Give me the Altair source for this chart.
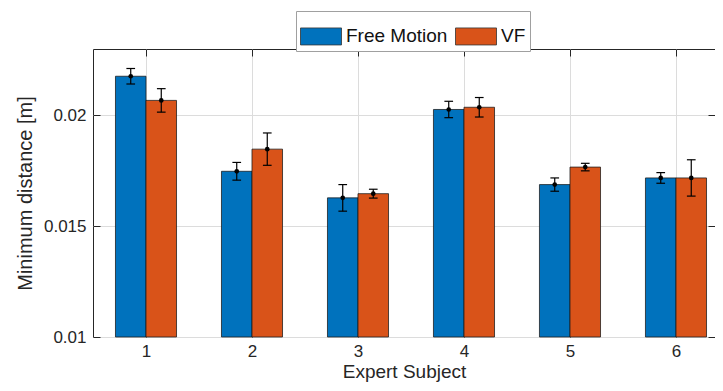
import altair as alt
import pandas as pd

subjects = [1, 2, 3, 4, 5, 6]
series_names = ["Free Motion", "VF"]
free_mean = [0.02177, 0.01748, 0.01628, 0.02027, 0.01688, 0.01718]
free_err = [0.00035, 0.00040, 0.00060, 0.00037, 0.00030, 0.00024]
vf_mean = [0.02068, 0.01848, 0.01647, 0.02037, 0.01767, 0.01718]
vf_err = [0.00053, 0.00073, 0.00020, 0.00044, 0.00017, 0.00082]
colors = ["#0072BD", "#D95319"]
y_ticks = [0.01, 0.015, 0.02]

rows = []
for i, s in enumerate(subjects):
    rows.append({"subject": s, "series": series_names[0], "mean": free_mean[i], "err": free_err[i]})
    rows.append({"subject": s, "series": series_names[1], "mean": vf_mean[i], "err": vf_err[i]})
df = pd.DataFrame(rows)

FONT = "Liberation Sans"
HALF = 0.144
CAP = 0.041

xs = alt.Scale(domain=[0.5, 6.368], nice=False, zero=False)
ys = alt.Scale(domain=[0.01, 0.023], nice=False, zero=False)

base = alt.Chart(df).transform_calculate(
    xc=f"datum.subject + (datum.series == 'Free Motion' ? -{HALF} : {HALF})",
    lo="datum.mean - datum.err",
    hi="datum.mean + datum.err",
).transform_calculate(
    x0=f"datum.xc - {HALF}",
    x1=f"datum.xc + {HALF}",
    c0=f"datum.xc - {CAP}",
    c1=f"datum.xc + {CAP}",
)

main_x_axis = alt.Axis(
    orient="bottom", values=subjects, format="d", title="Expert Subject",
    ticks=False, domain=False, grid=True, gridColor="#dcdcdc", gridWidth=1,
    labelFont=FONT, labelFontSize=17, labelColor="#262626", labelPadding=6,
    titleFont=FONT, titleFontSize=19, titleFontWeight="normal", titleColor="#262626",
    titlePadding=3,
)
main_y_axis = alt.Axis(
    orient="left", values=y_ticks, format="~g", title="Minimum distance [m]",
    ticks=False, domain=False, grid=True, gridColor="#dcdcdc", gridWidth=1,
    labelFont=FONT, labelFontSize=17, labelColor="#262626", labelPadding=7,
    titleFont=FONT, titleFontSize=20, titleFontWeight="normal", titleColor="#262626",
    titlePadding=8,
)

def tick_axis(orient, values):
    return alt.Axis(
        orient=orient, values=values, labels=False, title=None, domain=False,
        grid=False, ticks=True, tickSize=7, tickColor="#262626", tickWidth=1,
        offset=-7,
    )

bars = base.mark_bar(stroke="#1a1a1a", strokeWidth=0.9, strokeOpacity=0.85).encode(
    x=alt.X("x0:Q", scale=xs, axis=main_x_axis),
    x2="x1:Q",
    y=alt.Y("mean:Q", scale=ys, axis=main_y_axis),
    y2=alt.datum(0.01),
    color=alt.Color(
        "series:N",
        scale=alt.Scale(domain=series_names, range=colors),
        legend=alt.Legend(
            title=None, orient="none", legendX=203, legendY=-38,
            direction="horizontal",
            symbolType="M-1,-0.415H1V0.415H-1Z", symbolSize=1681,
            symbolStrokeColor="#333333", symbolStrokeWidth=0.8,
            labelFont=FONT, labelFontSize=19, labelColor="#111111",
            labelOffset=4, columnPadding=5, padding=4,
            strokeColor="#a0a0a0", fillColor="white",
        ),
    ),
)

rules = base.mark_rule(color="black", strokeWidth=1.2).encode(
    x=alt.X("xc:Q", scale=xs, axis=tick_axis("top", subjects)),
    y=alt.Y("lo:Q", scale=ys, axis=tick_axis("right", y_ticks)),
    y2="hi:Q",
)

caps_lo = base.mark_rule(color="black", strokeWidth=1.2).encode(
    x=alt.X("c0:Q", scale=xs, axis=tick_axis("bottom", subjects)),
    x2="c1:Q",
    y=alt.Y("lo:Q", scale=ys, axis=tick_axis("left", y_ticks)),
)

caps_hi = base.mark_rule(color="black", strokeWidth=1.2).encode(
    x=alt.X("c0:Q", scale=xs, axis=None),
    x2="c1:Q",
    y=alt.Y("hi:Q", scale=ys, axis=None),
)

points = base.mark_point(filled=True, color="black", size=22, opacity=1).encode(
    x=alt.X("xc:Q", scale=xs, axis=None),
    y=alt.Y("mean:Q", scale=ys, axis=None),
)

chart = alt.layer(bars, rules, caps_lo, caps_hi, points).resolve_axis(
    x="independent", y="independent"
).properties(
    width=622, height=288,
    autosize=alt.AutoSizeParams(type="none"),
    padding={"left": 85, "top": 41, "right": 0, "bottom": 46},
    background="white",
).configure_view(
    stroke="#262626", strokeWidth=1,
)

chart.save("out.html", embed_options={"renderer": "svg", "actions": False})
